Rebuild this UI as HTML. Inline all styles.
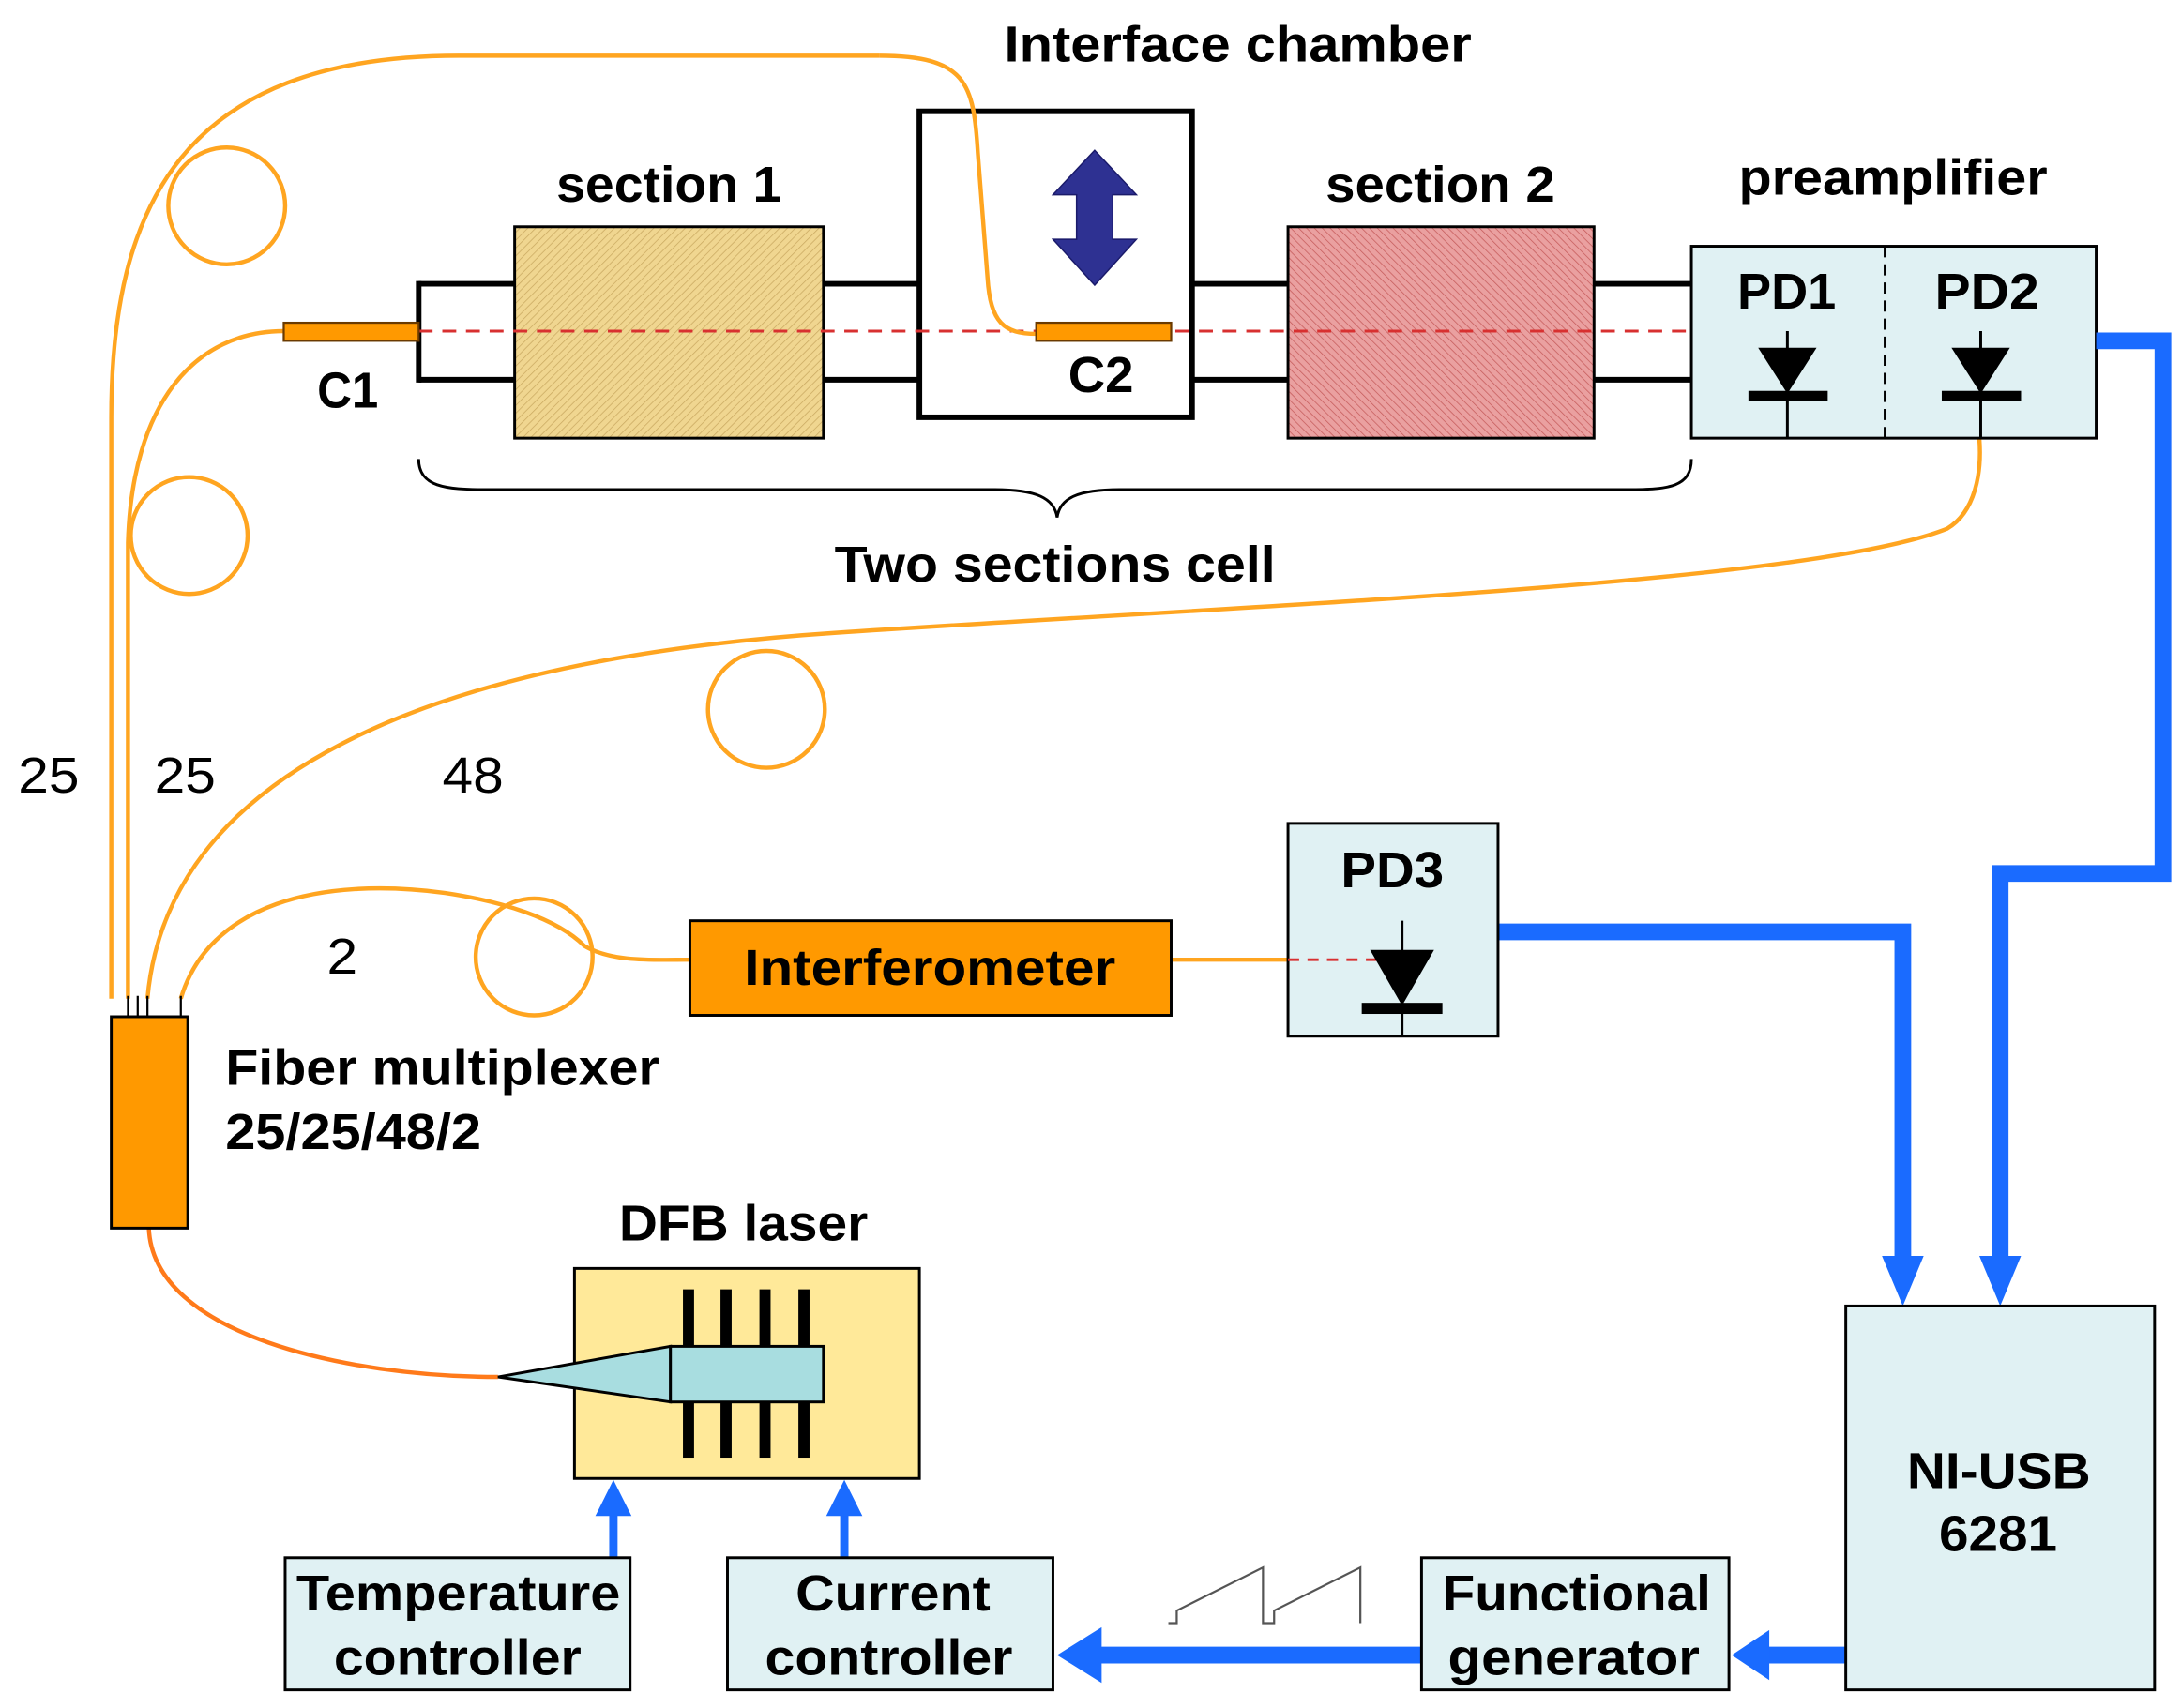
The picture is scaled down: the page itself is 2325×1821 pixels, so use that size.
<!DOCTYPE html>
<html><head><meta charset="utf-8"><style>
html,body{margin:0;padding:0;background:#fff}
svg{display:block}
text{font-family:"Liberation Sans",Arial,sans-serif;font-weight:bold;fill:#000}
</style></head><body>
<svg width="2325" height="1821" viewBox="0 0 1568 1228" xmlns="http://www.w3.org/2000/svg">
<defs>
<pattern id="h1" width="4" height="4" patternUnits="userSpaceOnUse" patternTransform="rotate(45)">
<rect width="4" height="4" fill="#f0d690"/><line x1="0" y1="0" x2="0" y2="4" stroke="#c9a860" stroke-width="1"/></pattern>
<pattern id="h2" width="4" height="4" patternUnits="userSpaceOnUse" patternTransform="rotate(-45)">
<rect width="4" height="4" fill="#eaa0a0"/><line x1="0" y1="0" x2="0" y2="4" stroke="#c55a5a" stroke-width="1"/></pattern>
</defs>

<!-- fibers -->
<g fill="none" stroke="#ffa520" stroke-width="3">
<path d="M80 718 L80 300 C80 150 130 40 330 40 L632 40"/>
<circle cx="163" cy="148" r="42"/>
<path d="M92 718 L92 390 C95 290 140 238 204 238"/>
<circle cx="136" cy="385" r="42"/>
<path d="M106 718 C120 560 300 475 600 455 C900 435 1300 420 1400 380 C1420 368 1425 340 1423 315"/>
<circle cx="551" cy="510" r="42"/>
<path d="M130 718 C150 650 230 630 320 642 C360 648 400 660 420 680 C440 692 470 690 496 690"/>
<circle cx="384" cy="688" r="42"/>
<line x1="842" y1="690" x2="926" y2="690"/>
</g>
<path d="M107 883 C110 960 250 990 358 990" fill="none" stroke="#ff7a1a" stroke-width="3"/>
<g stroke="#000" stroke-width="1.5"><line x1="92" y1="716" x2="92" y2="731"/><line x1="99" y1="716" x2="99" y2="731"/><line x1="106" y1="716" x2="106" y2="731"/><line x1="130" y1="716" x2="130" y2="731"/></g>

<!-- cell tube -->
<g stroke="#000" stroke-width="4">
<line x1="301" y1="204" x2="1216" y2="204"/><line x1="301" y1="273" x2="1216" y2="273"/>
<line x1="301" y1="202" x2="301" y2="275"/>
</g>
<rect x="661" y="80" width="196" height="220" fill="#fff" stroke="#000" stroke-width="4"/>
<rect x="370" y="163" width="222" height="152" fill="url(#h1)" stroke="#000" stroke-width="2"/>
<rect x="926" y="163" width="220" height="152" fill="url(#h2)" stroke="#000" stroke-width="2"/>
<line x1="301" y1="238" x2="1230" y2="238" stroke="#d83030" stroke-width="2" stroke-dasharray="10,7"/>
<path d="M632 40 C695 40 700 60 703 110 L710 200 C712 232 722 240 745 240" fill="none" stroke="#ffa520" stroke-width="3"/>
<rect x="204" y="232" width="97" height="13" fill="#ff9900" stroke="#6a3a00" stroke-width="1.5"/>
<rect x="745" y="232" width="97" height="13" fill="#ff9900" stroke="#6a3a00" stroke-width="1.5"/>
<polygon points="787,108 817,140 800,140 800,172 817,172 787,205 757,172 774,172 774,140 757,140" fill="#2e3192" stroke="#1a1a6a" stroke-width="1"/>

<!-- preamp -->
<rect x="1216" y="177" width="291" height="138" fill="#e0f1f3" stroke="#000" stroke-width="2"/>
<line x1="1355" y1="177" x2="1355" y2="315" stroke="#000" stroke-width="1.5" stroke-dasharray="8,5"/>
<g stroke="#000" stroke-width="2">
<line x1="1285" y1="238" x2="1285" y2="315"/><line x1="1424" y1="238" x2="1424" y2="315"/>
</g>
<polygon points="1264,250 1306,250 1285,283" fill="#000"/>
<rect x="1257" y="281" width="57" height="7" fill="#000"/>
<polygon points="1403,250 1445,250 1424,283" fill="#000"/>
<rect x="1396" y="281" width="57" height="7" fill="#000"/>

<path d="M301 330 C301 350 320 352 350 352 L715 352 C745 352 758 358 760 372 C762 358 775 352 805 352 L1170 352 C1200 352 1216 350 1216 330" fill="none" stroke="#000" stroke-width="2"/>

<!-- blue lines -->
<g fill="none" stroke="#1a6bff" stroke-width="12">
<polyline points="1507,245 1555,245 1555,628 1438,628 1438,905"/>
<polyline points="1077,670 1368,670 1368,905"/>
<line x1="1327" y1="1190" x2="1270" y2="1190"/>
<line x1="1022" y1="1190" x2="790" y2="1190"/>
<line x1="441" y1="1120" x2="441" y2="1088" stroke-width="6"/>
<line x1="607" y1="1120" x2="607" y2="1088" stroke-width="6"/>
</g>
<g fill="#1a6bff">
<polygon points="1353,903 1383,903 1368,939"/>
<polygon points="1423,903 1453,903 1438,939"/>
<polygon points="1272,1172 1272,1208 1245,1190"/>
<polygon points="792,1170 792,1210 760,1190"/>
<polygon points="428,1090 454,1090 441,1064"/>
<polygon points="594,1090 620,1090 607,1064"/>
</g>

<!-- PD3 -->
<rect x="926" y="592" width="151" height="153" fill="#e0f1f3" stroke="#000" stroke-width="2"/>
<line x1="926" y1="690" x2="990" y2="690" stroke="#d83030" stroke-width="2" stroke-dasharray="8,6"/>
<line x1="1008" y1="662" x2="1008" y2="745" stroke="#000" stroke-width="2"/>
<polygon points="985,683 1031,683 1008,723" fill="#000"/>
<rect x="979" y="721" width="58" height="8" fill="#000"/>

<rect x="496" y="662" width="346" height="68" fill="#ff9900" stroke="#000" stroke-width="2"/>
<rect x="80" y="731" width="55" height="152" fill="#ff9900" stroke="#000" stroke-width="2"/>

<!-- DFB -->
<rect x="413" y="912" width="248" height="151" fill="#ffe999" stroke="#000" stroke-width="2"/>
<g fill="#000">
<rect x="491" y="927" width="8" height="121"/><rect x="518" y="927" width="8" height="121"/>
<rect x="546" y="927" width="8" height="121"/><rect x="574" y="927" width="8" height="121"/>
</g>
<polygon points="358,990 482,968 482,1008" fill="#a8dde0" stroke="#000" stroke-width="2"/>
<rect x="482" y="968" width="110" height="40" fill="#a8dde0" stroke="#000" stroke-width="2"/>

<rect x="1327" y="939" width="222" height="276" fill="#e0f1f3" stroke="#000" stroke-width="2"/>
<rect x="1022" y="1120" width="221" height="95" fill="#e0f1f3" stroke="#000" stroke-width="2"/>
<rect x="523" y="1120" width="234" height="95" fill="#e0f1f3" stroke="#000" stroke-width="2"/>
<rect x="205" y="1120" width="248" height="95" fill="#e0f1f3" stroke="#000" stroke-width="2"/>
<polyline points="840,1167 846,1167 846,1158 908,1127 908,1167 916,1167 916,1158 978,1127 978,1167" fill="none" stroke="#555" stroke-width="1.5"/>

<!-- text -->
<g font-size="36" lengthAdjust="spacingAndGlyphs">
<text x="722" y="44" textLength="336" lengthAdjust="spacingAndGlyphs">Interface chamber</text>
<text x="400" y="145" textLength="162" lengthAdjust="spacingAndGlyphs">section 1</text>
<text x="953" y="145" textLength="165" lengthAdjust="spacingAndGlyphs">section 2</text>
<text x="1250" y="140" textLength="222" lengthAdjust="spacingAndGlyphs">preamplifier</text>
<text x="1249" y="222" textLength="71" lengthAdjust="spacingAndGlyphs">PD1</text>
<text x="1391" y="222" textLength="75" lengthAdjust="spacingAndGlyphs">PD2</text>
<text x="228" y="293" textLength="44" lengthAdjust="spacingAndGlyphs">C1</text>
<text x="768" y="282" textLength="47" lengthAdjust="spacingAndGlyphs">C2</text>
<text x="600" y="418" textLength="317" lengthAdjust="spacingAndGlyphs">Two sections cell</text>
<text x="964" y="638" textLength="74" lengthAdjust="spacingAndGlyphs">PD3</text>
<text x="535" y="708" textLength="267" lengthAdjust="spacingAndGlyphs">Interferometer</text>
<text x="162" y="780" textLength="312" lengthAdjust="spacingAndGlyphs">Fiber multiplexer</text>
<text x="162" y="826" textLength="184" lengthAdjust="spacingAndGlyphs">25/25/48/2</text>
<text x="445" y="892" textLength="179" lengthAdjust="spacingAndGlyphs">DFB laser</text>
<text x="1371" y="1070" textLength="132" lengthAdjust="spacingAndGlyphs">NI-USB</text>
<text x="1394" y="1115" textLength="85" lengthAdjust="spacingAndGlyphs">6281</text>
<text x="1037" y="1158" textLength="193" lengthAdjust="spacingAndGlyphs">Functional</text>
<text x="1041" y="1204" textLength="181" lengthAdjust="spacingAndGlyphs">generator</text>
<text x="572" y="1158" textLength="140" lengthAdjust="spacingAndGlyphs">Current</text>
<text x="550" y="1204" textLength="178" lengthAdjust="spacingAndGlyphs">controller</text>
<text x="213" y="1158" textLength="233" lengthAdjust="spacingAndGlyphs">Temperature</text>
<text x="240" y="1204" textLength="178" lengthAdjust="spacingAndGlyphs">controller</text>
</g>
<g font-size="36">
<text x="13" y="570" textLength="44" lengthAdjust="spacingAndGlyphs" style="font-weight:normal">25</text>
<text x="111" y="570" textLength="44" lengthAdjust="spacingAndGlyphs" style="font-weight:normal">25</text>
<text x="318" y="570" textLength="44" lengthAdjust="spacingAndGlyphs" style="font-weight:normal">48</text>
<text x="235" y="700" textLength="22" lengthAdjust="spacingAndGlyphs" style="font-weight:normal">2</text>
</g>
</svg>
</body></html>
